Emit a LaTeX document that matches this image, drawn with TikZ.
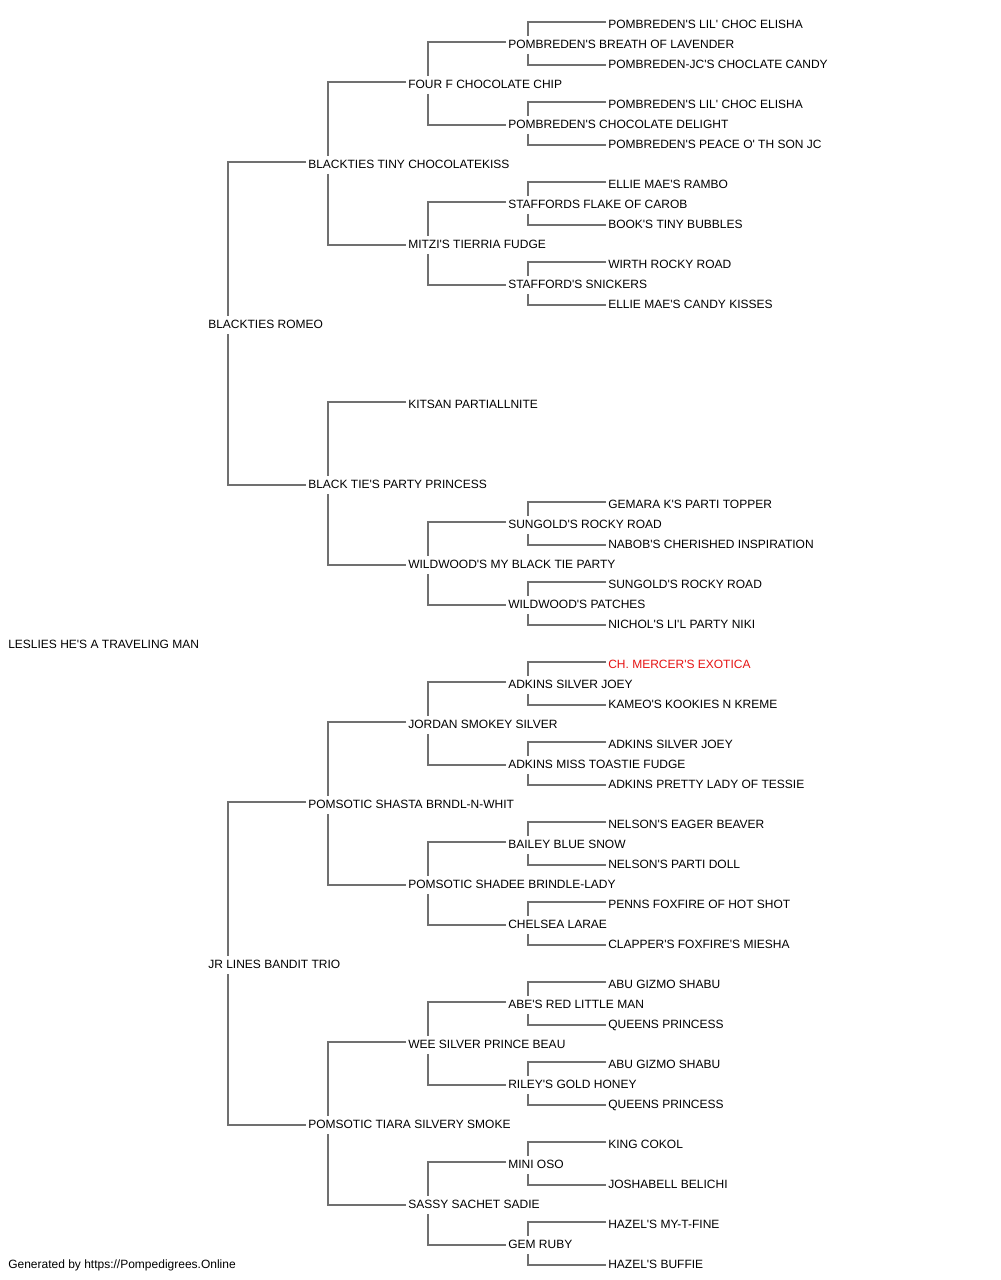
\documentclass[tikz,border=0pt]{standalone}
\usepackage{fontspec}
\newfontfamily\pedfont{Liberation Sans}
\usetikzlibrary{calc}
\tikzset{
  dog/.style={anchor=west, inner sep=0pt, text height=6.45pt, text depth=0pt,
    font=\pedfont\fontsize{9pt}{10pt}\selectfont, text=black},
  champ/.style={dog, text={rgb,255:red,230;green,20;blue,20}},
  link/.style={draw={rgb,255:red,112;green,112;blue,112}, line width=0.9pt}
}
\newcommand\pedlinks[3]{%
  \draw[link] ($(#2.west)+(-2,-2)$) -| ($(#1.west)+(20,-8)$);
  \draw[link] ($(#1.west)+(20,10)$) |- ($(#3.west)+(-2,1)$);
}
\begin{document}
\begin{tikzpicture}[x=0.75pt,y=-0.75pt]
\useasboundingbox[fill=white] (0,0) rectangle (1000,1280);
% root
\node[dog] (r) at (8,644) {LESLIES HE'S A TRAVELING MAN};
% generation 1
\node[dog] (a0) at (208,324) {BLACKTIES ROMEO};
\node[dog] (a1) at (208,964) {JR LINES BANDIT TRIO};
% generation 2
\node[dog] (b0) at (308,164) {BLACKTIES TINY CHOCOLATEKISS};
\node[dog] (b1) at (308,484) {BLACK TIE'S PARTY PRINCESS};
\node[dog] (b2) at (308,804) {POMSOTIC SHASTA BRNDL-N-WHIT};
\node[dog] (b3) at (308,1124) {POMSOTIC TIARA SILVERY SMOKE};
% generation 3
\node[dog] (c0) at (408,84) {FOUR F CHOCOLATE CHIP};
\node[dog] (c1) at (408,244) {MITZI'S TIERRIA FUDGE};
\node[dog] (c2) at (408,404) {KITSAN PARTIALLNITE};
\node[dog] (c3) at (408,564) {WILDWOOD'S MY BLACK TIE PARTY};
\node[dog] (c4) at (408,724) {JORDAN SMOKEY SILVER};
\node[dog] (c5) at (408,884) {POMSOTIC SHADEE BRINDLE-LADY};
\node[dog] (c6) at (408,1044) {WEE SILVER PRINCE BEAU};
\node[dog] (c7) at (408,1204) {SASSY SACHET SADIE};
% generation 4
\node[dog] (d0) at (508,44) {POMBREDEN'S BREATH OF LAVENDER};
\node[dog] (d1) at (508,124) {POMBREDEN'S CHOCOLATE DELIGHT};
\node[dog] (d2) at (508,204) {STAFFORDS FLAKE OF CAROB};
\node[dog] (d3) at (508,284) {STAFFORD'S SNICKERS};
\node[dog] (d6) at (508,524) {SUNGOLD'S ROCKY ROAD};
\node[dog] (d7) at (508,604) {WILDWOOD'S PATCHES};
\node[dog] (d8) at (508,684) {ADKINS SILVER JOEY};
\node[dog] (d9) at (508,764) {ADKINS MISS TOASTIE FUDGE};
\node[dog] (d10) at (508,844) {BAILEY BLUE SNOW};
\node[dog] (d11) at (508,924) {CHELSEA LARAE};
\node[dog] (d12) at (508,1004) {ABE'S RED LITTLE MAN};
\node[dog] (d13) at (508,1084) {RILEY'S GOLD HONEY};
\node[dog] (d14) at (508,1164) {MINI OSO};
\node[dog] (d15) at (508,1244) {GEM RUBY};
% generation 5
\node[dog] (f0) at (608,24) {POMBREDEN'S LIL' CHOC ELISHA};
\node[dog] (f1) at (608,64) {POMBREDEN-JC'S CHOCLATE CANDY};
\node[dog] (f2) at (608,104) {POMBREDEN'S LIL' CHOC ELISHA};
\node[dog] (f3) at (608,144) {POMBREDEN'S PEACE O' TH SON JC};
\node[dog] (f4) at (608,184) {ELLIE MAE'S RAMBO};
\node[dog] (f5) at (608,224) {BOOK'S TINY BUBBLES};
\node[dog] (f6) at (608,264) {WIRTH ROCKY ROAD};
\node[dog] (f7) at (608,304) {ELLIE MAE'S CANDY KISSES};
\node[dog] (f12) at (608,504) {GEMARA K'S PARTI TOPPER};
\node[dog] (f13) at (608,544) {NABOB'S CHERISHED INSPIRATION};
\node[dog] (f14) at (608,584) {SUNGOLD'S ROCKY ROAD};
\node[dog] (f15) at (608,624) {NICHOL'S LI'L PARTY NIKI};
\node[champ] (f16) at (608,664) {CH. MERCER'S EXOTICA};
\node[dog] (f17) at (608,704) {KAMEO'S KOOKIES N KREME};
\node[dog] (f18) at (608,744) {ADKINS SILVER JOEY};
\node[dog] (f19) at (608,784) {ADKINS PRETTY LADY OF TESSIE};
\node[dog] (f20) at (608,824) {NELSON'S EAGER BEAVER};
\node[dog] (f21) at (608,864) {NELSON'S PARTI DOLL};
\node[dog] (f22) at (608,904) {PENNS FOXFIRE OF HOT SHOT};
\node[dog] (f23) at (608,944) {CLAPPER'S FOXFIRE'S MIESHA};
\node[dog] (f24) at (608,984) {ABU GIZMO SHABU};
\node[dog] (f25) at (608,1024) {QUEENS PRINCESS};
\node[dog] (f26) at (608,1064) {ABU GIZMO SHABU};
\node[dog] (f27) at (608,1104) {QUEENS PRINCESS};
\node[dog] (f28) at (608,1144) {KING COKOL};
\node[dog] (f29) at (608,1184) {JOSHABELL BELICHI};
\node[dog] (f30) at (608,1224) {HAZEL'S MY-T-FINE};
\node[dog] (f31) at (608,1264) {HAZEL'S BUFFIE};
% footer
\node[dog] (foot) at (8,1264) {Generated by https://Pompedigrees.Online};
% connectors
\pedlinks{a0}{b0}{b1}
\pedlinks{a1}{b2}{b3}
\pedlinks{b0}{c0}{c1}
\pedlinks{b1}{c2}{c3}
\pedlinks{b2}{c4}{c5}
\pedlinks{b3}{c6}{c7}
\pedlinks{c0}{d0}{d1}
\pedlinks{c1}{d2}{d3}
\pedlinks{c3}{d6}{d7}
\pedlinks{c4}{d8}{d9}
\pedlinks{c5}{d10}{d11}
\pedlinks{c6}{d12}{d13}
\pedlinks{c7}{d14}{d15}
\pedlinks{d0}{f0}{f1}
\pedlinks{d1}{f2}{f3}
\pedlinks{d2}{f4}{f5}
\pedlinks{d3}{f6}{f7}
\pedlinks{d6}{f12}{f13}
\pedlinks{d7}{f14}{f15}
\pedlinks{d8}{f16}{f17}
\pedlinks{d9}{f18}{f19}
\pedlinks{d10}{f20}{f21}
\pedlinks{d11}{f22}{f23}
\pedlinks{d12}{f24}{f25}
\pedlinks{d13}{f26}{f27}
\pedlinks{d14}{f28}{f29}
\pedlinks{d15}{f30}{f31}
\end{tikzpicture}
\end{document}
